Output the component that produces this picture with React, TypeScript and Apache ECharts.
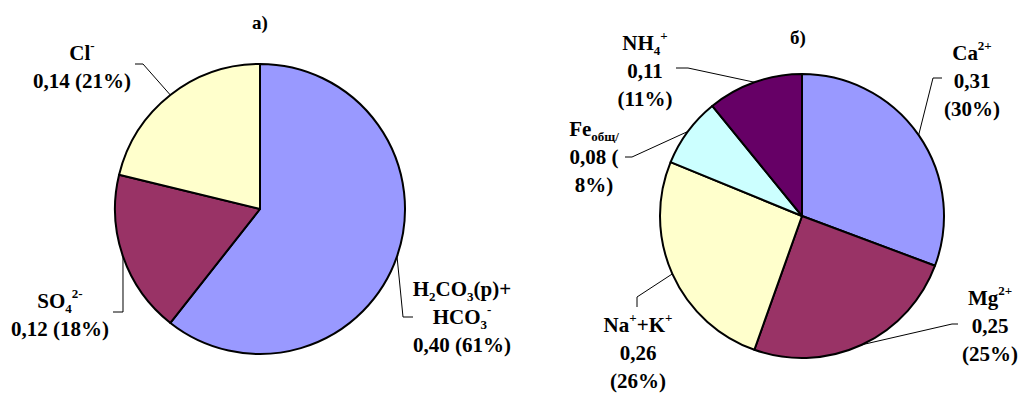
import React, { useEffect, useRef } from 'react';
import * as echarts from 'echarts';

const FONT = 'Liberation Serif';

// ---- data: a) anions ----
const anionNames = ['H2CO3(р)+HCO3-', 'SO4 2-', 'Cl-'];
const anionLabels = ['H{sub|2}CO{sub|3}(р)+\nHCO{sub|3}{sup|-}', 'SO{sub|4}{sup|2-}', 'Cl{sup|-}'];
const anionValues = [0.4, 0.12, 0.14];
const anionPercents = [61, 18, 21];
const anionColors = ['#9999FF', '#993366', '#FFFFCC'];

// ---- data: б) cations ----
const cationNames = ['Ca2+', 'Mg2+', 'Na+ + K+', 'Fe общ', 'NH4+'];
const cationLabels = ['Ca{sup|2+}', 'Mg{sup|2+}', 'Na{sup|+}+K{sup|+}', 'Fe{sub|общ/}', 'NH{sub|4}{sup|+}'];
const cationValues = [0.31, 0.25, 0.26, 0.08, 0.11];
const cationPercents = [30, 25, 26, 8, 11];
const cationSeparators = ['\n(', '\n(', '\n(', ' (\n', '\n('];
const cationColors = ['#9999FF', '#993366', '#FFFFCC', '#CCFFFF', '#660066'];

const titles = ['а)', 'б)'];

// ---- layout ----
const PIE_A = { cx: 260, cy: 209, r: 145 };
const PIE_B = { cx: 802, cy: 216, r: 142 };
const anionLayout = [
  { x: 462, y: 317, bend: [403, 317], end: [413, 317] },
  { x: 60, y: 315, bend: [123, 312], end: [113, 312] },
  { x: 82, y: 67, bend: [143, 64], end: [135, 64] },
];
const cationLayout = [
  { x: 972, y: 81, bend: [933, 78], end: [942, 78] },
  { x: 990, y: 326, bend: [952, 324], end: [958, 324] },
  { x: 638, y: 353, bend: [637, 297], end: [637, 307] },
  { x: 594, y: 157, bend: [632, 157], end: [625, 157] },
  { x: 645, y: 71, bend: [688, 68], end: [676, 68] },
];

function edgePoint(values: number[], i: number, pie: { cx: number; cy: number; r: number }) {
  const total = values.reduce((a, b) => a + b, 0);
  let before = 0;
  for (let k = 0; k < i; k++) before += values[k];
  const mid = ((before + values[i] / 2) / total) * 2 * Math.PI;
  return [pie.cx + pie.r * Math.sin(mid), pie.cy - pie.r * Math.cos(mid)];
}

const fmt = (v: number) => v.toFixed(2).replace('.', ',');

const rich = {
  sup: { fontSize: 13, fontWeight: 'bold', fontFamily: FONT, color: '#000', verticalAlign: 'top', lineHeight: 12 },
  sub: { fontSize: 13, fontWeight: 'bold', fontFamily: FONT, color: '#000', verticalAlign: 'bottom', lineHeight: 16 },
};

const labelBase = {
  show: true,
  position: 'outside',
  fontFamily: FONT,
  fontWeight: 'bold',
  fontSize: 21,
  lineHeight: 28,
  color: '#000',
  align: 'center',
  rich,
};

export default function App() {
  const ref = useRef<HTMLDivElement>(null);
  useEffect(() => {
    const chart = echarts.init(ref.current!, null, { renderer: 'svg' });
    const titleStyle = { fontFamily: FONT, fontWeight: 'bold', fontSize: 19, color: '#000' };
    chart.setOption({
      animation: false,
      backgroundColor: '#fff',
      title: [
        { text: titles[0], left: 260, top: 13, textAlign: 'center', padding: 0, textStyle: titleStyle },
        { text: titles[1], left: 798, top: 28, textAlign: 'center', padding: 0, textStyle: titleStyle },
      ],
      series: [
        {
          type: 'pie',
          center: [PIE_A.cx, PIE_A.cy],
          radius: PIE_A.r,
          startAngle: 90,
          clockwise: true,
          avoidLabelOverlap: false,
          silent: true,
          itemStyle: { borderColor: '#000', borderWidth: 2 },
          data: anionValues.map((v, i) => ({ name: anionNames[i], value: v, itemStyle: { color: anionColors[i] } })),
          label: {
            ...labelBase,
            formatter: (p: any) =>
              anionLabels[p.dataIndex] + '\n' + fmt(anionValues[p.dataIndex]) + ' (' + anionPercents[p.dataIndex] + '%)',
          },
          labelLine: { show: true, length: 10, length2: 10, smooth: false, lineStyle: { color: '#000', width: 1 } },
          labelLayout: (params: any) => {
            const i = params.dataIndex;
            const L = anionLayout[i];
            return {
              x: L.x,
              y: L.y,
              align: 'center',
              verticalAlign: 'middle',
              labelLinePoints: [edgePoint(anionValues, i, PIE_A), L.bend, L.end],
            };
          },
        },
        {
          type: 'pie',
          center: [PIE_B.cx, PIE_B.cy],
          radius: PIE_B.r,
          startAngle: 90,
          clockwise: true,
          avoidLabelOverlap: false,
          silent: true,
          itemStyle: { borderColor: '#000', borderWidth: 2 },
          data: cationValues.map((v, i) => ({ name: cationNames[i], value: v, itemStyle: { color: cationColors[i] } })),
          label: {
            ...labelBase,
            formatter: (p: any) =>
              cationLabels[p.dataIndex] +
              '\n' +
              fmt(cationValues[p.dataIndex]) +
              cationSeparators[p.dataIndex] +
              cationPercents[p.dataIndex] +
              '%)',
          },
          labelLine: { show: true, length: 10, length2: 10, smooth: false, lineStyle: { color: '#000', width: 1 } },
          labelLayout: (params: any) => {
            const i = params.dataIndex;
            const L = cationLayout[i];
            return {
              x: L.x,
              y: L.y,
              align: 'center',
              verticalAlign: 'middle',
              labelLinePoints: [edgePoint(cationValues, i, PIE_B), L.bend, L.end],
            };
          },
        },
      ],
    });
    return () => chart.dispose();
  }, []);
  return (
    <div
      ref={ref}
      style={{ position: 'absolute', left: 0, top: 0, width: 1019, height: 394, background: '#fff' }}
    />
  );
}
